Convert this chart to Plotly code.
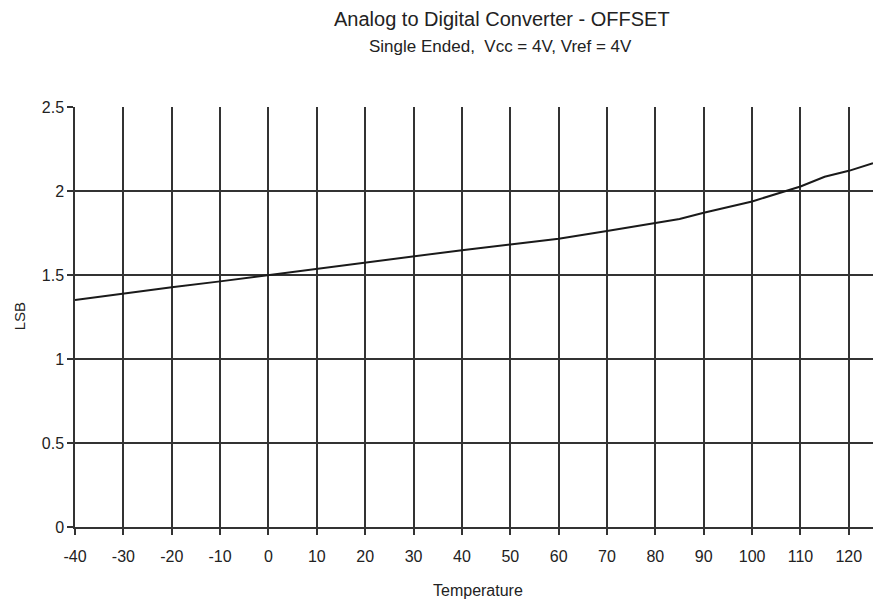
import plotly.graph_objects as go

# temperatura (°C) y offset (LSB)
temperature = [-40, -30, -20, -10, 0, 10, 20, 30, 40, 50, 60, 70, 80, 85, 90, 96, 100, 110, 115, 120, 125]
offset_lsb = [1.351, 1.391, 1.427, 1.462, 1.500, 1.534, 1.572, 1.610, 1.648, 1.682, 1.716, 1.762, 1.807, 1.833, 1.870, 1.909, 1.938, 2.027, 2.085, 2.120, 2.165]

x_ticks = list(range(-40, 121, 10))
x_labels = [str(t) for t in x_ticks]
y_ticks = [0, 0.5, 1, 1.5, 2, 2.5]
y_labels = ["0", "0.5", "1", "1.5", "2", "2.5"]

fig = go.Figure()

fig.add_trace(go.Scatter(
    x=temperature,
    y=offset_lsb,
    mode='lines',
    line=dict(color='#1a1a1a', width=2),
    showlegend=False
))

font_fam = "Liberation Sans, Arial, sans-serif"

# titulos como anotaciones para controlar la posicion
fig.add_annotation(text="Analog to Digital Converter - OFFSET",
                   xref='paper', yref='paper', x=0.535, y=1.2095,
                   xanchor='center', yanchor='middle', showarrow=False,
                   font=dict(size=20, color='#222222'))
fig.add_annotation(text="Single Ended,  Vcc = 4V, Vref = 4V",
                   xref='paper', yref='paper', x=0.533, y=1.145,
                   xanchor='center', yanchor='middle', showarrow=False,
                   font=dict(size=17, color='#222222'))
fig.add_annotation(text="Temperature",
                   xref='paper', yref='paper', x=0.505, y=-0.152,
                   xanchor='center', yanchor='middle', showarrow=False,
                   font=dict(size=16, color='#222222'))
fig.add_annotation(text="LSB", textangle=-90,
                   xref='paper', yref='paper', x=-0.070, y=0.502,
                   xanchor='center', yanchor='middle', showarrow=False,
                   font=dict(size=15, color='#222222'))

fig.update_layout(
    width=873,
    height=607,
    margin=dict(l=75, r=0, t=107, b=80, autoexpand=False),
    paper_bgcolor='white',
    plot_bgcolor='white',
    font=dict(family=font_fam, color='#222222', size=16),
    xaxis=dict(
        range=[-40, 125],
        tickvals=x_ticks,
        ticktext=x_labels,
        automargin=False,
        showgrid=True,
        gridcolor='#333333',
        gridwidth=1.5,
        zeroline=False,
        showline=True,
        linecolor='#333333',
        linewidth=1.5,
        ticks='outside',
        ticklen=6,
        tickcolor='#333333',
        tickwidth=1.5,
        ticklabelstandoff=8,
        tickfont=dict(size=16)
    ),
    yaxis=dict(
        range=[0, 2.5],
        tickvals=y_ticks,
        ticktext=y_labels,
        automargin=False,
        showgrid=True,
        gridcolor='#333333',
        gridwidth=1.5,
        zeroline=False,
        showline=True,
        linecolor='#333333',
        linewidth=1.5,
        ticks='outside',
        ticklen=6,
        tickcolor='#333333',
        tickwidth=1.5,
        tickfont=dict(size=16)
    )
)

# quita el margen del body para que la figura llene la ventana
fig.write_html("out.html",
               config={'displayModeBar': False},
               post_script="document.body.style.margin='0'; document.body.style.overflow='hidden';")
